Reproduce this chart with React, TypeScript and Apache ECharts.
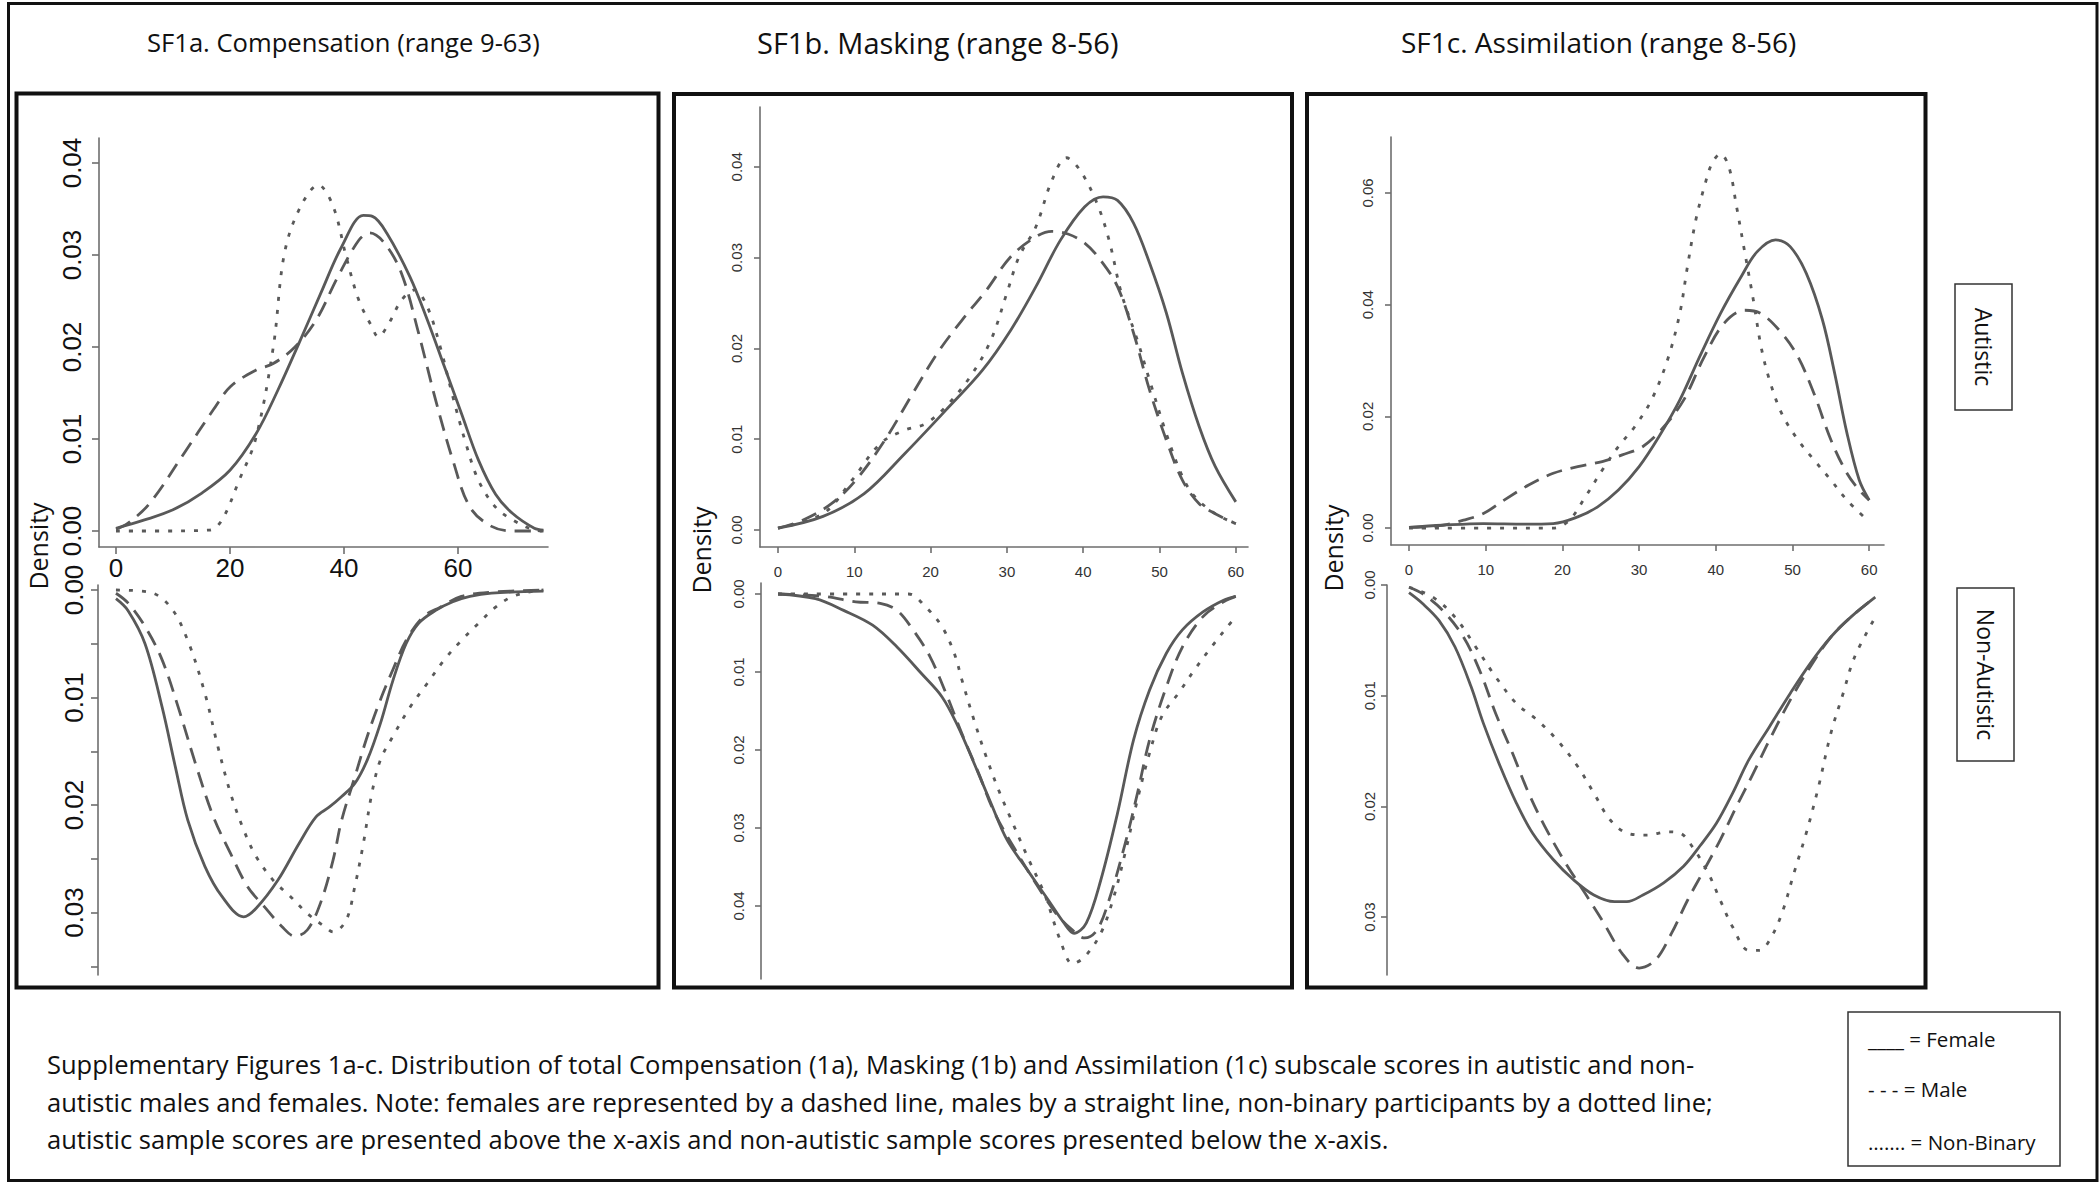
import React, { useEffect, useRef } from "react";
import * as echarts from "echarts";

// ---------------- DATA ----------------
// SF1a Compensation – autistic (above axis)
const compAutFemale = [[0,0.0003],[5,0.0012],[10,0.0023],[15,0.0041],[20,0.0066],[24.6,0.0106],[28.4,0.0153],[32.1,0.0204],[35.9,0.0258],[39.6,0.0309],[43.4,0.0343],[45,0.0342],[47.5,0.0324],[51.6,0.0276],[54.6,0.023],[57.6,0.0179],[60.6,0.0128],[63.6,0.0077],[66.6,0.004],[69.6,0.0019],[73.4,0.0003],[75,0.0001]];
const compAutMale = [[0,0.0002],[2,0.0008],[5.9,0.003],[11.9,0.0084],[17.1,0.0132],[20.1,0.0157],[24.6,0.0175],[27.6,0.0182],[31.4,0.02],[35.1,0.0229],[38.9,0.0276],[42.6,0.0316],[44.5,0.0324],[47.1,0.0313],[50.1,0.028],[53.1,0.0215],[56.1,0.0142],[59.1,0.0077],[62.1,0.0026],[65.9,0.0005],[69.6,0],[75,0]];
const compAutNB = [[0,0],[8,0],[16.4,0.0001],[18.6,0.0012],[21.6,0.0055],[24.5,0.01],[27.6,0.02],[29.5,0.03],[32.1,0.0349],[35.5,0.0376],[38.1,0.0353],[40.4,0.0298],[42.6,0.0251],[44.9,0.0222],[46,0.0211],[47.9,0.0226],[50.1,0.0251],[52.4,0.0262],[54.6,0.0244],[56.9,0.02],[59.1,0.0146],[61.4,0.0095],[63.6,0.0055],[66.6,0.0026],[69.6,0.0012],[73.4,0.0001],[75,0]];
// SF1a Compensation – non-autistic (below axis)
const compNonFemale = [[0,0.0008],[2.1,0.0019],[5.1,0.005],[8.1,0.0109],[10.4,0.0164],[12.6,0.0214],[15.6,0.0257],[18.6,0.0285],[22.4,0.0304],[24.6,0.0296],[28.4,0.027],[32.1,0.0236],[35.1,0.0211],[37.4,0.0202],[39.6,0.0192],[41.9,0.018],[44.1,0.0158],[46.4,0.0124],[48.6,0.0084],[50.9,0.005],[53.1,0.0031],[56.1,0.0019],[59.1,0.0011],[62.1,0.0006],[65.9,0.0003],[75,0.0001]];
const compNonMale = [[0,0.0003],[2.1,0.0012],[5.1,0.0034],[8.1,0.0065],[11.1,0.0112],[14.1,0.0164],[17.1,0.0211],[20.1,0.0245],[23.1,0.0276],[26.1,0.0295],[29.1,0.0313],[31.4,0.0322],[33.6,0.0316],[35.9,0.0291],[38.1,0.0251],[39.6,0.0214],[41.9,0.0174],[44.1,0.0136],[46.4,0.0102],[48.6,0.0074],[50.9,0.0047],[53.9,0.0025],[56.9,0.0016],[60.6,0.0006],[65.9,0.0002],[75,0]];
const compNonNB = [[0,0],[5.9,0.0002],[9.6,0.0016],[12.6,0.0047],[15.6,0.0096],[17.9,0.0146],[20.1,0.0189],[22.4,0.0223],[24.6,0.0248],[27.6,0.027],[30.6,0.0285],[33.6,0.0301],[36.6,0.0313],[38.1,0.0318],[40.4,0.0307],[41.9,0.0276],[43.4,0.0236],[44.9,0.0189],[46.4,0.0158],[48.6,0.0136],[51.6,0.0109],[54.6,0.0087],[57.6,0.0065],[60.6,0.0047],[63.6,0.0031],[66.6,0.0016],[69.6,0.0006],[73.4,0.0001],[75,0]];

// SF1b Masking – autistic
const maskAutFemale = [[0,0.0002],[5.9,0.0015],[11.3,0.004],[16.6,0.0084],[22,0.0132],[26.8,0.0176],[30.5,0.022],[33.8,0.0268],[37,0.0319],[40.2,0.0356],[42.6,0.0367],[44.5,0.0363],[46.6,0.0338],[48.7,0.0294],[50.9,0.0239],[53,0.0173],[55.2,0.0114],[57.3,0.007],[60,0.0031]];
const maskAutMale = [[0,0.0002],[3.3,0.0011],[7,0.0029],[10.2,0.0055],[14,0.0099],[17.7,0.0151],[20.9,0.0195],[24.1,0.0231],[27.3,0.0264],[30.5,0.0301],[33.8,0.0323],[35.9,0.0329],[38,0.0326],[40.2,0.0316],[42.3,0.0297],[44.5,0.0268],[46.6,0.0217],[48.7,0.0154],[50.9,0.0099],[53,0.0055],[55.2,0.0029],[57.3,0.0018],[60,0.0007]];
const maskAutNB = [[0,0.0002],[5.9,0.0018],[9.7,0.0055],[13.4,0.0095],[16.6,0.011],[19.3,0.0117],[22,0.0136],[25.2,0.0169],[27.9,0.0209],[30,0.0261],[31.6,0.0301],[33.8,0.0334],[35.9,0.0385],[37.8,0.041],[39.6,0.0396],[41.8,0.036],[43.4,0.0319],[45,0.0261],[47.1,0.0209],[48.7,0.0165],[50.9,0.0106],[53,0.0059],[54.6,0.0037],[57.3,0.0018],[60,0.0007]];
// SF1b Masking – non-autistic
const maskNonFemale = [[0,0],[4.9,0.0006],[8.6,0.0021],[12.4,0.004],[15.6,0.0068],[18.8,0.0102],[21.5,0.0132],[23.6,0.017],[25.7,0.0217],[27.9,0.0268],[30,0.0315],[32.7,0.0354],[35.4,0.0392],[37.5,0.0422],[38.8,0.0435],[40.4,0.0422],[42.3,0.0367],[44.5,0.0281],[46.6,0.0187],[48.7,0.0123],[50.9,0.0076],[53,0.0046],[55.7,0.0023],[58.4,0.0008],[60,0.0003]];
const maskNonMale = [[0,0],[5.9,0.0003],[10.2,0.001],[13.4,0.0012],[15.6,0.0021],[17.7,0.0046],[19.9,0.008],[22,0.0127],[24.1,0.0179],[26.3,0.023],[28.4,0.0281],[31.1,0.0328],[33.8,0.0371],[36.4,0.0409],[38.6,0.0431],[40.2,0.0441],[41.8,0.0431],[43.4,0.0392],[45.5,0.032],[47.1,0.0256],[48.7,0.0187],[50.9,0.0119],[53,0.0068],[55.7,0.0029],[58.4,0.001],[60,0.0003]];
const maskNonNB = [[0,0],[10,0],[17.1,0],[19.3,0.0016],[21.5,0.0042],[23.1,0.0076],[24.1,0.011],[25.7,0.0162],[27.3,0.0209],[28.9,0.0251],[30.6,0.029],[32.7,0.0337],[34.9,0.0384],[37,0.0444],[38.6,0.0474],[40.2,0.0465],[42.3,0.0435],[43.9,0.0392],[45.5,0.0332],[47.1,0.0264],[48.7,0.0204],[50.3,0.0157],[52.5,0.0127],[54.6,0.0097],[56.8,0.0068],[58.9,0.0042],[60,0.0029]];

// SF1c Assimilation – autistic
const assimAutFemale = [[0,0.0001],[4.4,0.0005],[9.7,0.0008],[15.1,0.0007],[18.8,0.0008],[22,0.002],[24.6,0.0038],[27.3,0.0068],[30,0.011],[32.6,0.0164],[35.3,0.0229],[37.9,0.0307],[40.6,0.0384],[43.3,0.045],[45.4,0.0495],[47.8,0.0516],[49.7,0.0504],[51.8,0.0456],[53.9,0.0373],[55.5,0.0277],[57.1,0.017],[58.7,0.0086],[60,0.005]];
const assimAutMale = [[0,0.0001],[4.4,0.0005],[7.1,0.0014],[9.7,0.0026],[12.4,0.005],[15.6,0.0077],[18.8,0.0098],[22,0.011],[25.2,0.0119],[27.8,0.0131],[30.5,0.0146],[33.2,0.0181],[35.8,0.0229],[38.5,0.0307],[41.1,0.0367],[43.8,0.039],[45.9,0.0384],[48.6,0.0349],[50.7,0.0307],[52.8,0.0241],[55,0.0158],[57.1,0.0098],[58.7,0.0068],[60,0.005]];
const assimAutNB = [[0,0],[10,0],[18.8,0],[20.9,0.0014],[23,0.0056],[25.2,0.0104],[27.3,0.0146],[29.4,0.0181],[31.6,0.0229],[33.7,0.0301],[35.3,0.0384],[36.3,0.0468],[37.4,0.0552],[38.5,0.0611],[39.5,0.0653],[40.6,0.067],[41.7,0.0647],[42.7,0.0576],[43.8,0.0492],[44.9,0.0408],[45.9,0.0325],[47,0.0265],[48.6,0.0205],[50.7,0.0158],[52.8,0.0122],[55,0.0086],[57.1,0.005],[60,0.0011]];
// SF1c Assimilation – non-autistic
const assimNonFemale = [[0,0.0007],[1.8,0.0017],[3.9,0.0032],[6,0.0056],[8.1,0.0092],[9.7,0.0125],[11.9,0.0164],[14,0.0197],[16.1,0.0224],[18.8,0.0248],[21.4,0.0266],[24.1,0.028],[26.8,0.0286],[28.4,0.0286],[30.5,0.028],[33.2,0.0269],[35.8,0.0254],[37.9,0.0236],[40.1,0.0215],[42.2,0.0188],[44.3,0.0158],[47,0.0128],[49.7,0.0098],[52.3,0.0071],[55,0.0047],[57.6,0.0029],[60.8,0.0011]];
const assimNonMale = [[0,0.0002],[1.8,0.0008],[4.4,0.0023],[7.1,0.0047],[9.2,0.0077],[11.3,0.0116],[13.5,0.0152],[15.6,0.0188],[17.7,0.0218],[20.4,0.0251],[23,0.0279],[25.2,0.0303],[27.8,0.0333],[30,0.0346],[32.1,0.0339],[34.2,0.0315],[36.3,0.0285],[38.5,0.0257],[40.6,0.023],[42.7,0.02],[44.9,0.017],[47,0.014],[49.7,0.0104],[52.3,0.0074],[55,0.0047],[57.6,0.0029],[60.8,0.0011]];
const assimNonNB = [[0,0.0002],[3.1,0.0011],[6,0.0029],[8.7,0.0056],[11.3,0.0083],[14,0.0107],[16.7,0.0122],[19.3,0.014],[22,0.0164],[24.1,0.0188],[26.2,0.0212],[28.4,0.0224],[31,0.0226],[33.7,0.0223],[35.3,0.0224],[36.9,0.0236],[39,0.026],[40.6,0.0285],[42.2,0.0309],[44.3,0.033],[45.7,0.033],[47,0.0321],[48.6,0.0297],[50.2,0.026],[51.8,0.0224],[53.4,0.0182],[55,0.0134],[56.6,0.0098],[58.1,0.0065],[60.8,0.0029]];

// tick values / labels
const xTicksA = [0, 20, 40, 60];
const xTicksBC = [0, 10, 20, 30, 40, 50, 60];
const yTicksA_up = [0, 0.01, 0.02, 0.03, 0.04];
const yTicksA_lo = [0, 0.005, 0.01, 0.015, 0.02, 0.025, 0.03, 0.035];
const yLabelsA_lo = [0, 0.01, 0.02, 0.03];
const yTicksB_up = [0, 0.01, 0.02, 0.03, 0.04];
const yTicksB_lo = [0, 0.01, 0.02, 0.03, 0.04];
const yTicksC_up = [0, 0.02, 0.04, 0.06];
const yTicksC_lo = [0, 0.01, 0.02, 0.03];

const titles = ["SF1a. Compensation (range 9-63)", "SF1b. Masking (range 8-56)", "SF1c. Assimilation (range 8-56)"];
const captionLines = [
  "Supplementary Figures 1a-c. Distribution of total Compensation (1a), Masking (1b) and Assimilation (1c) subscale scores in autistic and non-",
  "autistic males and females. Note: females are represented by a dashed line, males by a straight line, non-binary participants by a dotted line;",
  "autistic sample scores are presented above the x-axis and non-autistic sample scores presented below the x-axis.",
];
const legendLines = ["____ = Female", "- - - = Male", "……. = Non-Binary"];
const sideLabels = ["Autistic", "Non-Autistic"];
const yAxisName = "Density";

// ---------------- LAYOUT ----------------
const W = 2100;
const H = 1184;
const LINE = "#595959";
const AXIS = "#6e6e6e";
const TXT = "Open Sans";
const PLOT_FONT = "Liberation Sans";

type Panel = {
  series: { name: string; data: number[][]; kind: string }[];
  lower: { name: string; data: number[][]; kind: string }[];
  up: { left: number; top: number; width: number; height: number };
  lo: { left: number; top: number; width: number; height: number };
  xMin: number; xMax: number; loXMin: number;
  xTicks: number[];
  upY: { min: number; max: number; ticks: number[]; labels: number[] };
  loY: { min: number; max: number; ticks: number[]; labels: number[] };
  fontSize: number; labelColor: string; yMarginUp: number; yMarginLo: number; xMargin: number; tickLen: number;
};

const panels: Panel[] = [
  {
    series: [
      { name: "Female", data: compAutFemale, kind: "solid" },
      { name: "Male", data: compAutMale, kind: "dashed" },
      { name: "Non-Binary", data: compAutNB, kind: "dotted" },
    ],
    lower: [
      { name: "Female", data: compNonFemale, kind: "solid" },
      { name: "Male", data: compNonMale, kind: "dashed" },
      { name: "Non-Binary", data: compNonNB, kind: "dotted" },
    ],
    up: { left: 99, top: 138, width: 449, height: 409 },
    lo: { left: 98, top: 585, width: 450, height: 390 },
    xMin: -2.98, xMax: 75.8, loXMin: -3.15,
    xTicks: xTicksA,
    upY: { min: -0.00174, max: 0.04272, ticks: yTicksA_up, labels: yTicksA_up },
    loY: { min: -0.000465, max: 0.03581, ticks: yTicksA_lo, labels: yLabelsA_lo },
    fontSize: 26, labelColor: "#111", yMarginUp: 14, yMarginLo: 11, xMargin: 8, tickLen: 7,
  },
  {
    series: [
      { name: "Female", data: maskAutFemale, kind: "solid" },
      { name: "Male", data: maskAutMale, kind: "dashed" },
      { name: "Non-Binary", data: maskAutNB, kind: "dotted" },
    ],
    lower: [
      { name: "Female", data: maskNonFemale, kind: "solid" },
      { name: "Male", data: maskNonMale, kind: "dashed" },
      { name: "Non-Binary", data: maskNonNB, kind: "dotted" },
    ],
    up: { left: 760, top: 107, width: 488, height: 440 },
    lo: { left: 761, top: 583, width: 487, height: 396 },
    xMin: -2.36, xMax: 61.6, loXMin: -2.23,
    xTicks: xTicksBC,
    upY: { min: -0.00187, max: 0.04659, ticks: yTicksB_up, labels: yTicksB_up },
    loY: { min: -0.00141, max: 0.04936, ticks: yTicksB_lo, labels: yTicksB_lo },
    fontSize: 15, labelColor: "#333", yMarginUp: 16, yMarginLo: 15, xMargin: 17, tickLen: 6,
  },
  {
    series: [
      { name: "Female", data: assimAutFemale, kind: "solid" },
      { name: "Male", data: assimAutMale, kind: "dashed" },
      { name: "Non-Binary", data: assimAutNB, kind: "dotted" },
    ],
    lower: [
      { name: "Female", data: assimNonFemale, kind: "solid" },
      { name: "Male", data: assimNonMale, kind: "dashed" },
      { name: "Non-Binary", data: assimNonNB, kind: "dotted" },
    ],
    up: { left: 1391, top: 137, width: 493, height: 408 },
    lo: { left: 1387, top: 585, width: 497, height: 390 },
    xMin: -2.35, xMax: 61.93, loXMin: -2.87,
    xTicks: xTicksBC,
    upY: { min: -0.00304, max: 0.07003, ticks: yTicksC_up, labels: yTicksC_up },
    loY: { min: 0, max: 0.03523, ticks: yTicksC_lo, labels: yTicksC_lo },
    fontSize: 15, labelColor: "#333", yMarginUp: 16, yMarginLo: 10, xMargin: 17, tickLen: 6,
  },
];

function lineType(kind: string): any {
  if (kind === "dashed") return [16, 9];
  if (kind === "dotted") return [4, 9];
  return "solid";
}

function buildOption() {
  const grid: any[] = [];
  const xAxis: any[] = [];
  const yAxis: any[] = [];
  const series: any[] = [];
  const axisLineStyle = { color: AXIS, width: 1.6 };

  panels.forEach((p) => {
    const gu = grid.length;
    grid.push({ left: p.up.left, top: p.up.top, width: p.up.width, height: p.up.height });
    const gl = grid.length;
    grid.push({ left: p.lo.left, top: p.lo.top, width: p.lo.width, height: p.lo.height });

    const labelStyle = { fontSize: p.fontSize, fontFamily: PLOT_FONT, color: p.labelColor };

    xAxis.push({
      gridIndex: gu, type: "value", min: p.xMin, max: p.xMax,
      axisLine: { show: true, onZero: false, lineStyle: axisLineStyle },
      axisTick: { show: true, length: p.tickLen, customValues: p.xTicks, lineStyle: axisLineStyle },
      axisLabel: { show: true, customValues: p.xTicks, margin: p.xMargin, ...labelStyle, formatter: (v: number) => String(Math.round(v)) },
      splitLine: { show: false },
    });
    xAxis.push({ gridIndex: gl, type: "value", min: p.loXMin, max: p.xMax, show: false, splitLine: { show: false } });

    yAxis.push({
      gridIndex: gu, type: "value", min: p.upY.min, max: p.upY.max,
      axisLine: { show: true, onZero: false, lineStyle: axisLineStyle },
      axisTick: { show: true, length: p.tickLen, customValues: p.upY.ticks, lineStyle: axisLineStyle },
      axisLabel: { show: true, customValues: p.upY.labels, rotate: 90, margin: p.yMarginUp, ...labelStyle, formatter: (v: number) => v.toFixed(2) },
      splitLine: { show: false },
    });
    yAxis.push({
      gridIndex: gl, type: "value", min: p.loY.min, max: p.loY.max, inverse: true,
      axisLine: { show: true, onZero: false, lineStyle: axisLineStyle },
      axisTick: { show: true, length: p.tickLen, customValues: p.loY.ticks, lineStyle: axisLineStyle },
      axisLabel: { show: true, customValues: p.loY.labels, rotate: 90, margin: p.yMarginLo, ...labelStyle, formatter: (v: number) => v.toFixed(2) },
      splitLine: { show: false },
    });

    const add = (s: any, ax: number) => {
      series.push({
        type: "line", name: s.name, data: s.data, xAxisIndex: ax, yAxisIndex: ax,
        showSymbol: false, smooth: 0.35, silent: true, z: 3,
        lineStyle: { color: LINE, width: 2.8, type: lineType(s.kind), cap: "butt", join: "round" },
      });
    };
    p.series.forEach((s) => add(s, gu));
    p.lower.forEach((s) => add(s, gl));
  });

  const txt = (text: string, x: number, y: number, size: number, extra: any = {}) => ({
    type: "text", x, y, silent: true, z: 10, ...extra,
    style: { text, fontSize: size, fontFamily: TXT, fill: "#111", align: extra.align || "left", verticalAlign: "middle" },
  });

  const graphic: any[] = [
    { type: "rect", silent: true, z: 1, shape: { x: 8.5, y: 3.5, width: 2088.5, height: 1177 }, style: { fill: "none", stroke: "#111", lineWidth: 3 } },
    { type: "rect", silent: true, z: 1, shape: { x: 16.5, y: 93.5, width: 642, height: 894 }, style: { fill: "none", stroke: "#111", lineWidth: 4 } },
    { type: "rect", silent: true, z: 1, shape: { x: 674, y: 94, width: 618, height: 893.5 }, style: { fill: "none", stroke: "#111", lineWidth: 4 } },
    { type: "rect", silent: true, z: 1, shape: { x: 1307, y: 94, width: 618.5, height: 893.5 }, style: { fill: "none", stroke: "#111", lineWidth: 4 } },
    txt(titles[0], 147, 42, 25.6),
    txt(titles[1], 757, 42, 29),
    txt(titles[2], 1401, 42, 28),
    { ...txt(yAxisName, 38, 546, 25, { align: "center" }), rotation: Math.PI / 2 },
    { ...txt(yAxisName, 701, 550, 25, { align: "center" }), rotation: Math.PI / 2 },
    { ...txt(yAxisName, 1333, 548, 25, { align: "center" }), rotation: Math.PI / 2 },
    { type: "rect", silent: true, z: 1, shape: { x: 1955, y: 284, width: 57, height: 126 }, style: { fill: "none", stroke: "#333", lineWidth: 1.5 } },
    { type: "rect", silent: true, z: 1, shape: { x: 1957, y: 588, width: 57, height: 173 }, style: { fill: "none", stroke: "#333", lineWidth: 1.5 } },
    { ...txt(sideLabels[0], 1984, 347, 23, { align: "center" }), rotation: -Math.PI / 2 },
    { ...txt(sideLabels[1], 1986, 674.5, 23, { align: "center" }), rotation: -Math.PI / 2 },
    txt(captionLines[0], 47, 1064, 25.5),
    txt(captionLines[1], 47, 1102, 25.5),
    txt(captionLines[2], 47, 1139, 25.5),
    { type: "rect", silent: true, z: 1, shape: { x: 1848, y: 1012, width: 212, height: 154 }, style: { fill: "none", stroke: "#333", lineWidth: 1.5 } },
    txt(legendLines[0], 1868, 1039, 20.5),
    txt(legendLines[1], 1868, 1089, 20.5),
    txt(legendLines[2], 1868, 1142, 20.5),
  ];

  return { animation: false, backgroundColor: "#fff", grid, xAxis, yAxis, series, graphic };
}

export default function App() {
  const ref = useRef<HTMLDivElement>(null);
  useEffect(() => {
    if (!ref.current) return;
    const chart = echarts.init(ref.current, null, { renderer: "svg", width: W, height: H });
    chart.setOption(buildOption() as any);
    return () => chart.dispose();
  }, []);
  return <div ref={ref} style={{ position: "fixed", left: 0, top: 0, width: W, height: H, background: "#fff" }} />;
}
